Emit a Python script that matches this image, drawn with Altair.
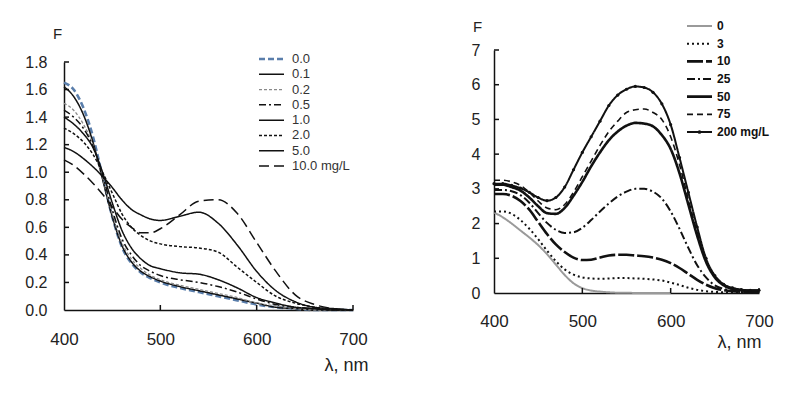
import altair as alt
import pandas as pd

# ---------------- Left panel data ----------------
L_NM = [400, 410, 420, 430, 440, 450, 460, 470, 480, 490, 500, 520, 540, 560, 580, 600, 620, 640, 660, 680, 700]
L_SERIES = ["0.0", "0.1", "0.2", "0.5", "1.0", "2.0", "5.0", "10.0 mg/L"]
L_00 = [1.65, 1.60, 1.47, 1.26, 0.97, 0.68, 0.46, 0.34, 0.27, 0.23, 0.20, 0.16, 0.13, 0.10, 0.07, 0.04, 0.02, 0.01, 0.00, 0.00, 0.00]
L_01 = [1.62, 1.55, 1.42, 1.22, 0.95, 0.68, 0.47, 0.35, 0.28, 0.24, 0.21, 0.17, 0.14, 0.11, 0.08, 0.05, 0.02, 0.01, 0.00, 0.00, 0.00]
L_02 = [1.50, 1.45, 1.35, 1.20, 0.96, 0.70, 0.49, 0.37, 0.30, 0.25, 0.22, 0.18, 0.15, 0.12, 0.09, 0.05, 0.03, 0.01, 0.00, 0.00, 0.00]
L_05 = [1.45, 1.40, 1.32, 1.19, 0.98, 0.73, 0.52, 0.40, 0.32, 0.28, 0.25, 0.22, 0.20, 0.17, 0.13, 0.08, 0.04, 0.02, 0.01, 0.00, 0.00]
L_10 = [1.40, 1.35, 1.28, 1.18, 1.00, 0.78, 0.58, 0.45, 0.37, 0.32, 0.30, 0.27, 0.26, 0.22, 0.16, 0.09, 0.05, 0.02, 0.01, 0.00, 0.00]
L_20 = [1.32, 1.28, 1.22, 1.13, 1.00, 0.85, 0.70, 0.60, 0.54, 0.50, 0.48, 0.46, 0.45, 0.42, 0.31, 0.20, 0.10, 0.05, 0.02, 0.00, 0.00]
L_50 = [1.18, 1.15, 1.10, 1.04, 0.97, 0.89, 0.80, 0.73, 0.69, 0.66, 0.65, 0.68, 0.71, 0.63, 0.47, 0.28, 0.14, 0.06, 0.02, 0.01, 0.00]
L_100 = [1.09, 1.05, 0.99, 0.92, 0.84, 0.75, 0.66, 0.60, 0.56, 0.56, 0.59, 0.69, 0.79, 0.80, 0.70, 0.49, 0.28, 0.11, 0.04, 0.01, 0.00]
L_ALL = [L_00, L_01, L_02, L_05, L_10, L_20, L_50, L_100]
L_COLORS = ["#5a7eab", "#111111", "#8a8a8a", "#111111", "#111111", "#111111", "#111111", "#111111"]
L_DASH = [[6, 3], [1, 0], [3, 2], [7, 3, 2, 3], [1, 0], [3, 2], [1, 0], [10, 5]]
L_WIDTH = [2.6, 1.5, 1.3, 1.5, 1.5, 1.5, 1.5, 1.5]
L_XTICKS = [500, 600, 700]
L_YTICKS = [0.2, 0.4, 0.6, 0.8, 1.0, 1.2, 1.4, 1.6, 1.8]
L_YLABELS = [0, 0.2, 0.4, 0.6, 0.8, 1.0, 1.2, 1.4, 1.6, 1.8]
L_XDOM = [400, 700]
L_YDOM = [0, 1.8]
X_LABELS = [400, 500, 600, 700]

# ---------------- Right panel data ----------------
R_NM = [400, 410, 420, 430, 440, 450, 460, 470, 480, 490, 500, 510, 520, 530, 540, 550,
        560, 570, 580, 590, 600, 610, 620, 630, 640, 650, 660, 670, 680, 690, 700]
R_SERIES = ["0", "3", "10", "25", "50", "75", "200  mg/L"]
R_0 = [2.32, 2.18, 2.00, 1.80, 1.60, 1.38, 1.12, 0.82, 0.52, 0.28, 0.14, 0.07, 0.04, 0.02, 0.01, 0.01,
       0.00, 0.00, 0.00, 0.00, 0.00]
R_3 = [2.35, 2.35, 2.28, 2.10, 1.85, 1.55, 1.22, 0.92, 0.68, 0.53, 0.45, 0.42, 0.41, 0.42, 0.43, 0.43,
       0.42, 0.41, 0.39, 0.36, 0.30, 0.23, 0.15, 0.09, 0.05, 0.03, 0.02, 0.01, 0.01, 0.01, 0.01]
R_10 = [2.85, 2.85, 2.80, 2.65, 2.40, 2.05, 1.70, 1.40, 1.18, 1.02, 0.95, 0.96, 1.02, 1.08, 1.10, 1.10,
        1.08, 1.06, 1.02, 0.96, 0.86, 0.72, 0.55, 0.38, 0.24, 0.14, 0.08, 0.05, 0.04, 0.04, 0.04]
R_25 = [2.97, 2.97, 2.93, 2.82, 2.60, 2.30, 2.02, 1.82, 1.73, 1.75, 1.88, 2.10, 2.35, 2.58, 2.78, 2.92,
        3.00, 3.00, 2.92, 2.72, 2.35, 1.85, 1.30, 0.80, 0.45, 0.22, 0.12, 0.07, 0.05, 0.05, 0.05]
R_50 = [3.12, 3.12, 3.05, 2.95, 2.75, 2.50, 2.30, 2.28, 2.45, 2.80, 3.20, 3.65, 4.05, 4.40, 4.65, 4.82,
        4.90, 4.88, 4.80, 4.55, 4.15, 3.45, 2.55, 1.65, 0.90, 0.45, 0.22, 0.12, 0.08, 0.07, 0.07]
R_75 = [3.25, 3.25, 3.20, 3.10, 2.90, 2.65, 2.45, 2.40, 2.55, 2.90, 3.35, 3.80, 4.25, 4.65, 4.95, 5.20,
        5.28, 5.30, 5.20, 5.00, 4.50, 3.70, 2.70, 1.75, 0.95, 0.50, 0.25, 0.13, 0.08, 0.06, 0.06]
R_200 = [3.15, 3.15, 3.10, 3.02, 2.90, 2.75, 2.66, 2.75, 3.05, 3.55, 4.05, 4.50, 4.95, 5.40, 5.70, 5.87,
         5.95, 5.92, 5.78, 5.45, 4.85, 3.90, 2.90, 1.90, 1.00, 0.50, 0.25, 0.15, 0.10, 0.08, 0.08]
R_ALL = [R_0, R_3, R_10, R_25, R_50, R_75, R_200]
R_COLORS = ["#9a9a9a", "#111111", "#111111", "#111111", "#111111", "#111111", "#111111"]
R_DASH = [[1, 0], [2, 3], [16, 3], [8, 3, 2, 3], [1, 0], [6, 4], [1, 0]]
R_WIDTH = [2.0, 2.0, 2.6, 2.0, 2.6, 1.6, 2.0]
R_XTICKS = [500, 600, 700]
R_YTICKS = [1, 2, 3, 4, 5, 6, 7]
R_YLABELS = [0, 1, 2, 3, 4, 5, 6, 7]
R_XDOM = [400, 700]
R_YDOM = [0, 7]

FONT = "Liberation Sans"
INK = "#111111"
TXT = "#222222"

# pixel frames of the two panels (inside the 782x383 view)
LX_RANGE, LY_RANGE = [56, 345], [302, 54]
RX_RANGE, RY_RANGE = [486, 751], [285, 42]
# legend row ranges (first row, last row) and columns
L_LEG_Y, L_LEG_X = [51, 158], [251, 276, 284]
R_LEG_Y, R_LEG_X = [18, 124], [679, 704, 709]


def sc(domain, rng):
    return alt.Scale(domain=domain, range=rng, nice=False, zero=False)


def x_axis(offset, title_x, title_y, pad):
    return alt.Axis(orient="bottom", offset=offset, values=X_LABELS, format="d", domain=True,
                    domainColor=INK, domainWidth=1.5, tickSize=0, labelPadding=pad, labelFlush=False,
                    labelFont=FONT, labelFontSize=17, labelColor=TXT, grid=True, gridOpacity=0,
                    title="λ, nm", titleX=title_x, titleY=title_y, titleFont=FONT, titleFontSize=18,
                    titleFontWeight="normal", titleColor=TXT, titleBaseline="middle",
                    titleAlign="center")


def y_axis(offset, values, fmt, pad, title_x, title_y):
    return alt.Axis(orient="left", offset=offset, values=values, format=fmt, domain=True,
                    domainColor=INK, domainWidth=1.5, tickSize=0, labelPadding=pad, labelFlush=False,
                    labelFont=FONT, labelFontSize=16, labelColor=TXT, grid=True, gridOpacity=0,
                    title="F", titleX=title_x, titleY=title_y, titleAngle=0, titleFont=FONT,
                    titleFontSize=15, titleFontWeight="normal", titleColor=TXT,
                    titleBaseline="middle", titleAlign="center")


def series_layers(nm, all_vals, colors, dashes, widths, xdom, ydom, xr, yr, xaxis, yaxis):
    out = []
    for i, vals in enumerate(all_vals):
        df = pd.DataFrame({"nm": nm[:len(vals)], "F": vals})
        first = i == 0
        out.append(alt.Chart(df).mark_line(interpolate="monotone", color=colors[i],
                                           strokeDash=dashes[i], strokeWidth=widths[i]).encode(
            x=alt.X("nm:Q", scale=sc(xdom, xr), axis=xaxis if first else None),
            y=alt.Y("F:Q", scale=sc(ydom, yr), axis=yaxis if first else None)))
    return out


def tick_layers(xdom, ydom, xr, yr, xticks, yticks):
    x0, y0 = xr[0], yr[0]
    xt = alt.Chart(pd.DataFrame({"nm": xticks})).mark_rule(color=INK, strokeWidth=1.5).encode(
        x=alt.X("nm:Q", scale=sc(xdom, xr), axis=None), y=alt.value(y0), y2=alt.value(y0 - 5))
    yt = alt.Chart(pd.DataFrame({"F": yticks})).mark_rule(color=INK, strokeWidth=1.5).encode(
        y=alt.Y("F:Q", scale=sc(ydom, yr), axis=None), x=alt.value(x0), x2=alt.value(x0 + 5))
    return [xt, yt]


def legend_layers(names, colors, dashes, widths, yrange, xcols, size, weight, tcolor):
    ysc = alt.Scale(type="point", domain=names, range=yrange, padding=0)
    out = []
    for i, name in enumerate(names):
        out.append(alt.Chart(pd.DataFrame({"series": [name]})).mark_rule(
            color=colors[i], strokeDash=dashes[i], strokeWidth=widths[i]).encode(
            y=alt.Y("series:N", scale=ysc, axis=None), x=alt.value(xcols[0]), x2=alt.value(xcols[1])))
    out.append(alt.Chart(pd.DataFrame({"series": names})).mark_text(
        align="left", baseline="middle", font=FONT, fontSize=size, fontWeight=weight, color=tcolor).encode(
        y=alt.Y("series:N", scale=ysc, axis=None), x=alt.value(xcols[2]), text="series:N"))
    return out


left = (series_layers(L_NM, L_ALL, L_COLORS, L_DASH, L_WIDTH, L_XDOM, L_YDOM, LX_RANGE, LY_RANGE,
                      x_axis(-81, 338, 55, 21), y_axis(-56, L_YLABELS, ".1f", 17, -7, 25))
        + tick_layers(L_XDOM, L_YDOM, LX_RANGE, LY_RANGE, L_XTICKS, L_YTICKS)
        + legend_layers(L_SERIES, L_COLORS, L_DASH, L_WIDTH, L_LEG_Y, L_LEG_X, 13, "normal", "#333333"))

right = (series_layers(R_NM, R_ALL, R_COLORS, R_DASH, R_WIDTH, R_XDOM, R_YDOM, RX_RANGE, RY_RANGE,
                       x_axis(-98, 731, 49, 20), y_axis(-486, R_YLABELS, "d", 14, -17, 18))
         + tick_layers(R_XDOM, R_YDOM, RX_RANGE, RY_RANGE, R_XTICKS, R_YTICKS)
         + legend_layers(R_SERIES, R_COLORS, R_DASH, R_WIDTH, R_LEG_Y, R_LEG_X, 12, "bold", INK))

# marker dots on the 200 mg/L curve and on its legend sample
r200 = pd.DataFrame({"nm": R_NM, "F": R_200})
right_pts = alt.Chart(r200).mark_circle(size=10, color=INK, opacity=1).encode(
    x=alt.X("nm:Q", scale=sc(R_XDOM, RX_RANGE), axis=None),
    y=alt.Y("F:Q", scale=sc(R_YDOM, RY_RANGE), axis=None))
leg_dot = alt.Chart(pd.DataFrame({"series": [R_SERIES[-1]]})).mark_circle(size=14, color=INK, opacity=1).encode(
    y=alt.Y("series:N", scale=alt.Scale(type="point", domain=R_SERIES, range=R_LEG_Y, padding=0), axis=None),
    x=alt.value((R_LEG_X[0] + R_LEG_X[1]) / 2))

chart = alt.layer(*(left + right + [right_pts, leg_dot])).resolve_scale(
    x="independent", y="independent"
).properties(
    width=782, height=383, padding=0, autosize=alt.AutoSizeParams(type="none"),
    background="white"
).configure_view(stroke=None)

chart.save("out.html", embed_options={"renderer": "svg", "actions": False})
